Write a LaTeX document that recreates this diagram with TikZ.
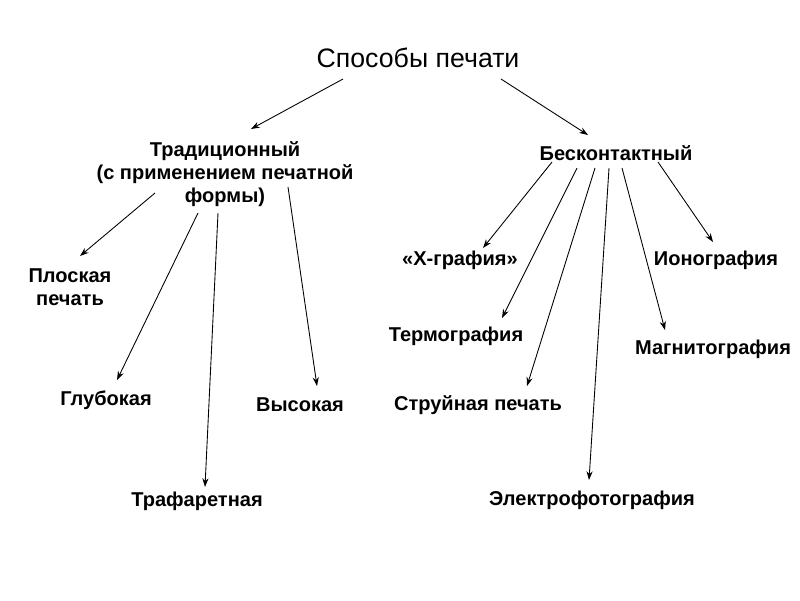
\documentclass[tikz,border=0pt]{standalone}
\usepackage{fontspec}
\setmainfont{Liberation Sans}
\usepackage{tikz}
\usetikzlibrary{arrows.meta, calc}

\begin{document}
\begin{tikzpicture}[
    x=0.02cm, y=-0.02cm,
    head/.style={inner sep=1pt, font=\fontsize{15.2}{18}\selectfont},
    kind/.style={inner sep=1pt, align=center, font=\fontsize{11.4}{13.2}\selectfont\bfseries},
    arrow/.style={-{Stealth[length=5pt, width=3.5pt]}, line width=0.5pt}
]
\useasboundingbox (0,0) rectangle (800,600);
\node[head] (title) at (418,58) {Способы печати};
\node[kind] (trad) at (225,174) {Традиционный\\(с применением печатной\\формы)};
\node[kind] (bes) at (616,153) {Бесконтактный};
% traditional branch
\node[kind] (flat) at (70,287) {Плоская\\печать};
\node[kind] (glub) at (106,400) {Глубокая};
\node[kind] (vys) at (300,405) {Высокая};
\node[kind] (traf) at (197,501) {Трафаретная};
% contactless branch
\node[kind] (xgr) at (460,260) {«Х-графия»};
\node[kind] (term) at (456,336) {Термография};
\node[kind] (stru) at (478,405) {Струйная печать};
\node[kind] (elek) at (592,500) {Электрофотография};
\node[kind] (ion) at (716,260) {Ионография};
\node[kind] (magn) at (713,349) {Магнитография};
\draw[arrow] ($(title)+(-75,21)$) -- ($(trad)+(26,-45)$);
\draw[arrow] ($(title)+(83,21)$) -- ($(bes)+(-28,-18)$);
\draw[arrow] ($(trad)+(-70,19)$) -- ($(flat)+(10,-31)$);
\draw[arrow] ($(trad)+(-27,39)$) -- ($(glub)+(11,-20)$);
\draw[arrow] ($(trad)+(-7,39)$) -- ($(traf)+(8,-14)$);
\draw[arrow] ($(trad)+(63,13)$) -- ($(vys)+(17,-19)$);
\draw[arrow] ($(bes)+(-64,9)$) -- ($(xgr)+(23,-12)$);
\draw[arrow] ($(bes)+(-39,15)$) -- ($(term)+(46,-18)$);
\draw[arrow] ($(bes)+(-21,15)$) -- ($(stru)+(49,-19)$);
\draw[arrow] ($(bes)+(-7,15)$) -- ($(elek)+(-3,-20)$);
\draw[arrow] ($(bes)+(6,15)$) -- ($(magn)+(-48,-19)$);
\draw[arrow] ($(bes)+(42,9)$) -- ($(ion)+(-3,-18)$);
\end{tikzpicture}
\end{document}
